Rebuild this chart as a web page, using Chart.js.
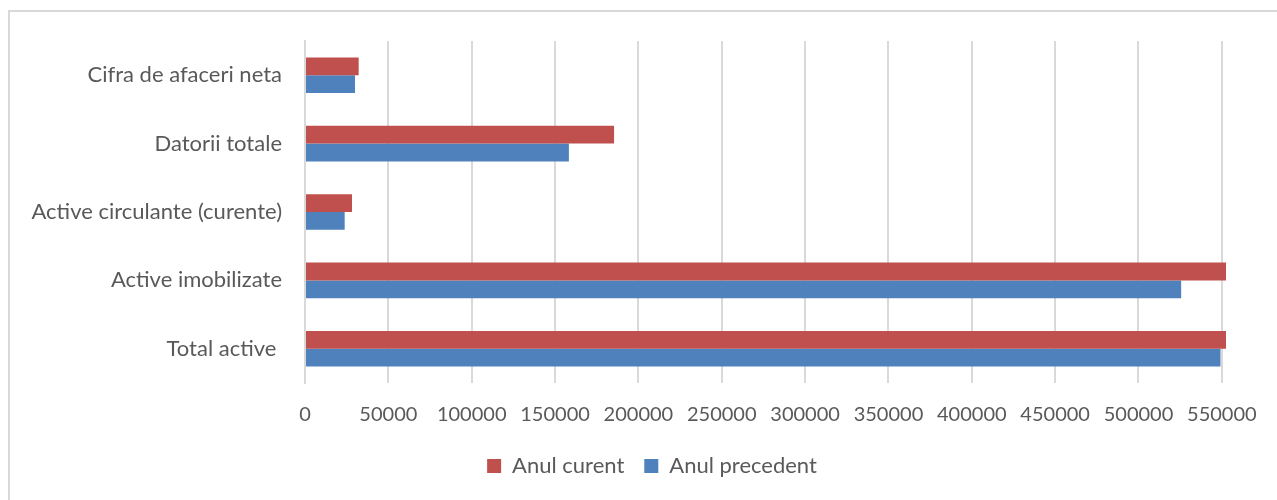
<!DOCTYPE html>
<html>
<head>
<meta charset="utf-8">
<script src="https://cdn.jsdelivr.net/npm/chart.js@4.4.1/dist/chart.umd.min.js"></script>
<style>
  html, body { margin: 0; padding: 0; background: #fff; }
  #frame {
    position: absolute; left: 8px; top: 10px; width: 1400px; height: 700px;
    border: 2px solid #d9d9d9; box-sizing: border-box;
  }
  #wrap { position: absolute; left: 0; top: 0; width: 1277px; height: 500px; }
</style>
</head>
<body>
<div id="frame"></div>
<div id="wrap"><canvas id="barChart"></canvas></div>
<script>
const categories = ["Cifra de afaceri neta", "Datorii totale", "Active circulante (curente)", "Active imobilizate", "Total active "];
const anulCurent = [32200, 185400, 28200, 553000, 553000];
const anulPrecedent = [30000, 158300, 23800, 525600, 549200];
const xTicks = [0, 50000, 100000, 150000, 200000, 250000, 300000, 350000, 400000, 450000, 500000, 550000];

const textColor = "#595959";
const gridColor = "#d9d9d9";
Chart.defaults.font.family = "Lato, 'Open Sans', sans-serif";
Chart.defaults.color = textColor;

// legend sits a bit right of the canvas centre in the original
const legendShift = {
    id: "legendShift",
    afterLayout(chart) {
        chart.legend.left += 39;
        chart.legend.right += 39;
    }
};

let ctx = document.getElementById("barChart").getContext("2d");
let barChart = new Chart(ctx, {
    type: "bar",
    data: {
        labels: categories,
        datasets: [
            {
                label: "Anul curent",
                data: anulCurent,
                backgroundColor: "#c0504d",
                barPercentage: 1,
                categoryPercentage: 0.52
            },
            {
                label: "Anul precedent",
                data: anulPrecedent,
                backgroundColor: "#4f81bd",
                barPercentage: 1,
                categoryPercentage: 0.52
            }
        ]
    },
    plugins: [legendShift],
    options: {
        indexAxis: "y",
        responsive: true,
        maintainAspectRatio: false,
        animation: false,
        layout: { padding: { left: 0, right: 51, top: 41, bottom: 13 } },
        scales: {
            x: {
                min: 0,
                max: 552500,
                afterBuildTicks: function (scale) {
                    scale.ticks = xTicks.map(v => ({ value: v }));
                },
                afterFit: function (scale) { scale.height = 52; },
                grid: { color: gridColor, lineWidth: 2, drawTicks: false },
                border: { display: false },
                ticks: {
                    font: { size: 20 },
                    padding: 20,
                    maxRotation: 0,
                    callback: function (value) { return String(value); }
                }
            },
            y: {
                afterFit: function (scale) { scale.width = 305; },
                grid: { display: false },
                border: { display: true, color: gridColor, width: 2 },
                ticks: { font: { size: 22 }, padding: 15 }
            }
        },
        plugins: {
            legend: {
                position: "bottom",
                labels: { boxWidth: 14, boxHeight: 14, font: { size: 22 }, padding: 20 }
            },
            tooltip: { enabled: false }
        }
    }
});
</script>
</body>
</html>
